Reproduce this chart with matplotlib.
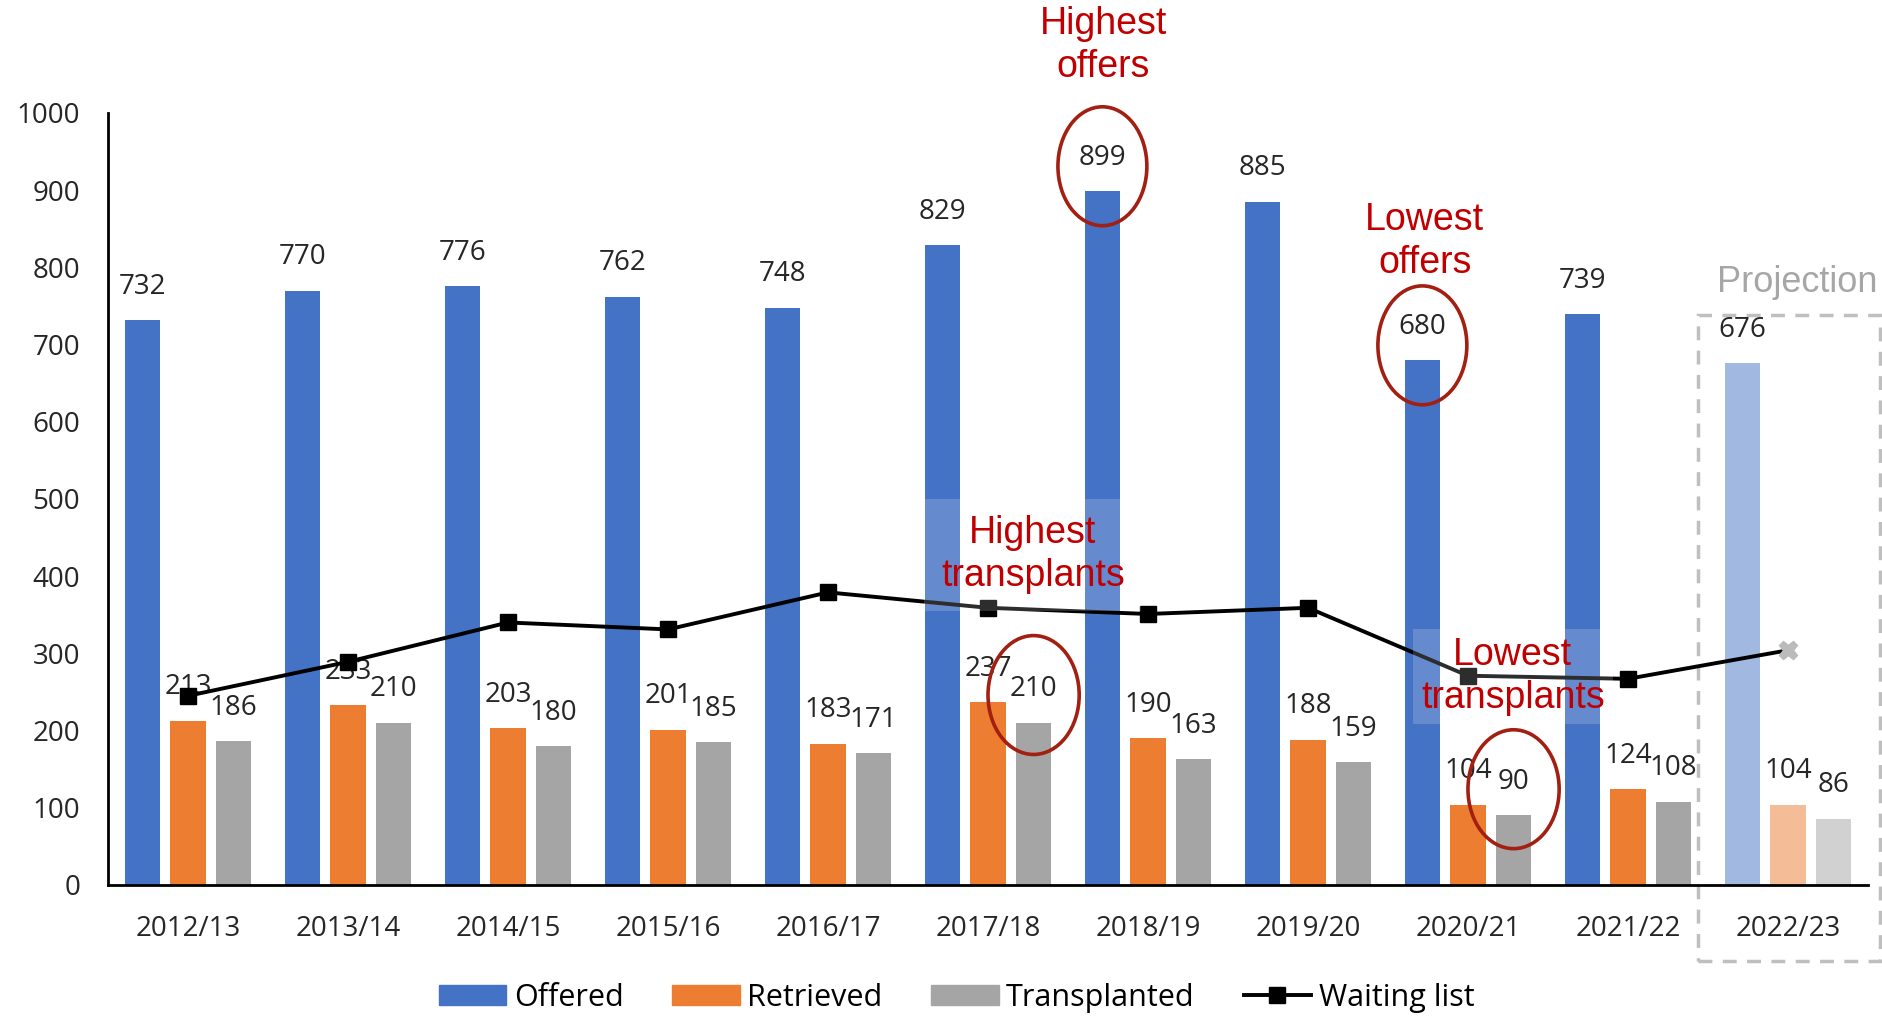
import numpy as np
import matplotlib.pyplot as plt
from matplotlib.patches import Ellipse, Rectangle

# data
years = ["2012/13", "2013/14", "2014/15", "2015/16", "2016/17", "2017/18",
         "2018/19", "2019/20", "2020/21", "2021/22", "2022/23"]
offered = [732, 770, 776, 762, 748, 829, 899, 885, 680, 739, 676]
retrieved = [213, 233, 203, 201, 183, 237, 190, 188, 104, 124, 104]
transplanted = [186, 210, 180, 185, 171, 210, 163, 159, 90, 108, 86]
waiting = [245, 289, 340, 331, 379, 359, 351, 359, 271, 267, 304]

c_off = "#4472C4"
c_ret = "#ED7D31"
c_tra = "#A5A5A5"
red = "#C00000"
ring = "#A31F12"

plt.rcParams["font.family"] = ["Open Sans", "DejaVu Sans"]

fig = plt.figure(figsize=(18.83, 10.16), dpi=100)
ax = fig.add_axes([0.0574, 0.129, 0.9346, 0.7598])

x = np.arange(len(years))
w = 0.22
gap = 0.285
n = len(years) - 1  # last year is a projection

for vals, off, col in [(offered, -gap, c_off), (retrieved, 0, c_ret), (transplanted, gap, c_tra)]:
    ax.bar(x[:n] + off, vals[:n], width=w, color=col)
    ax.bar(x[n:] + off, vals[n:], width=w, color=col, alpha=0.5)
    for xi, v in zip(x + off, vals):
        ax.annotate(str(v), (xi, v), xytext=(0, 24), textcoords="offset points",
                    ha="center", va="center", fontsize=20, color="#262626")

# waiting list line
ax.plot(x, waiting, color="black", lw=2.8, zorder=5)
ax.plot(x[:n], waiting[:n], ls="none", marker="s", ms=12, color="black", zorder=6)
ax.plot(x[n:], waiting[n:], ls="none", marker="X", ms=13, color="#BBBBBB", zorder=6)

ax.set_xlim(-0.5, len(years) - 0.5)
ax.set_ylim(0, 1000)
ax.set_yticks(range(0, 1001, 100))
ax.set_xticks(x)
ax.set_xticklabels(years)
ax.tick_params(axis="both", length=0, labelsize=20, colors="#262626")
ax.tick_params(axis="x", pad=22)
ax.tick_params(axis="y", pad=20)
for s in ["top", "right"]:
    ax.spines[s].set_visible(False)
for s in ["left", "bottom"]:
    ax.spines[s].set_linewidth(2)
    ax.spines[s].set_color("black")

# annotations
tfont = dict(family=["Liberation Sans", "DejaVu Sans"], fontsize=27, color=red,
             ha="center", va="center", linespacing=1.25)
ax.text(5.72, 1087, "Highest\noffers", clip_on=False, **tfont)
ax.text(7.73, 834, "Lowest\noffers", **tfont)
ax.text(5.28, 428, "Highest\ntransplants", zorder=7,
        bbox=dict(facecolor="white", alpha=0.18, edgecolor="none", pad=12), **tfont)
ax.text(8.28, 270, "Lowest\ntransplants", zorder=7,
        bbox=dict(facecolor="white", alpha=0.18, edgecolor="none", pad=6), **tfont)

for cx, cy, ew in [(6 - gap, 931, 0.556), (8 - gap, 699, 0.556),
                   (5 + gap, 246, 0.57), (8 + gap, 124, 0.57)]:
    ax.add_patch(Ellipse((cx, cy), ew, 154, fill=False, edgecolor=ring, lw=2.6,
                         zorder=8, clip_on=False))

# projection box
ax.add_patch(Rectangle((9.44, -98), 1.135, 836, fill=False, edgecolor="#BFBFBF",
                       lw=2.5, ls=(0, (4, 3)), clip_on=False, zorder=1))
ax.text(10.06, 780, "Projection", family=["Liberation Sans", "DejaVu Sans"],
        fontsize=26, color="#A6A6A6", ha="center", va="center", clip_on=False)

# legend
h1 = Rectangle((0, 0), 1, 1, color=c_off)
h2 = Rectangle((0, 0), 1, 1, color=c_ret)
h3 = Rectangle((0, 0), 1, 1, color=c_tra)
h4, = ax.plot([], [], color="black", lw=2.8, marker="s", ms=12)
fig.legend([h1, h2, h3, h4], ["Offered", "Retrieved", "Transplanted", "Waiting list"],
           loc="center", bbox_to_anchor=(0.508, 0.018), ncol=4, frameon=False,
           fontsize=22, handlelength=2.2, handleheight=0.65, handletextpad=0.25,
           columnspacing=1.6)

fig.savefig("out.png", dpi=100)
